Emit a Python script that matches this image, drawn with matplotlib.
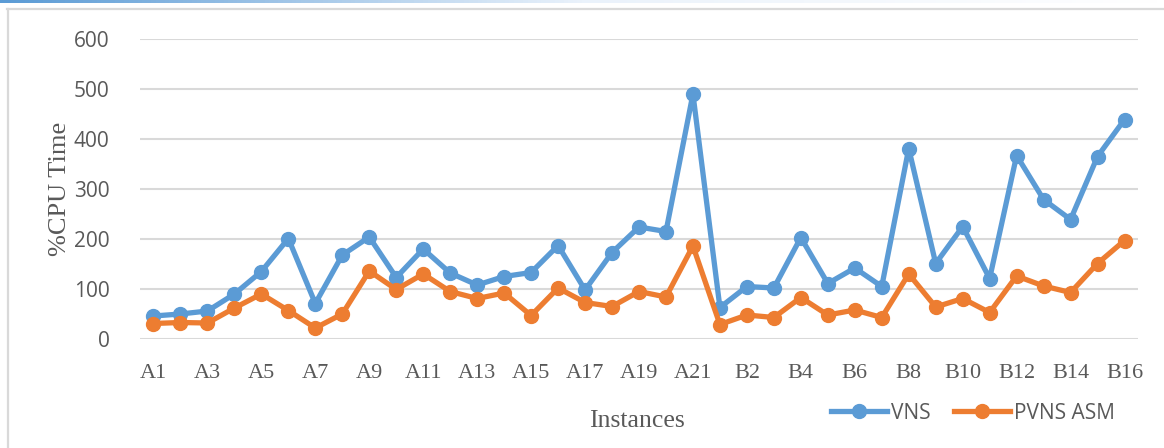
import numpy as np
import matplotlib
matplotlib.use("Agg")
import matplotlib.pyplot as plt
from matplotlib.lines import Line2D

# instance names: A1..A21 then B1..B16
instances = ["A%d" % i for i in range(1, 22)] + ["B%d" % i for i in range(1, 17)]

vns = [46, 50, 56, 90, 135, 201, 71, 168, 204, 123, 180, 132, 108, 125, 133, 187,
       98, 173, 224, 215, 490,
       63, 105, 102, 203, 111, 142, 105, 381, 151, 225, 121, 367, 279, 239, 365, 439]
pvns_asm = [31, 33, 32, 62, 90, 57, 22, 50, 136, 99, 130, 95, 81, 92, 47, 102,
            73, 65, 95, 84, 186,
            29, 48, 43, 83, 48, 58, 43, 130, 64, 81, 53, 126, 106, 93, 151, 197]

y_ticks = [0, 100, 200, 300, 400, 500, 600]

BLUE = "#5b9bd5"
ORANGE = "#ed7d31"
GRID = "#d9d9d9"
TXT = "#595959"
SANS = ["Open Sans", "DejaVu Sans"]
SERIF = ["Liberation Serif", "DejaVu Serif"]

W, H = 1164, 448
fig = plt.figure(figsize=(W / 100, H / 100), dpi=100)

# thin gradient stripe along the top edge
stripe = fig.add_axes([0, 1 - 3 / H, 1, 3 / H])
grad = np.linspace(0, 1, 256).reshape(1, -1)
cmap = matplotlib.colors.LinearSegmentedColormap.from_list("s", [BLUE, "#eaf2fb", "#ffffff"])
stripe.imshow(grad, aspect="auto", cmap=cmap)
stripe.axis("off")

# chart frame (left and top edges visible)
fig.add_artist(Line2D([7.5 / W, 7.5 / W], [0, 1 - 9 / H], transform=fig.transFigure,
                      color=GRID, lw=1.6))
fig.add_artist(Line2D([7 / W, 1], [1 - 9.5 / H, 1 - 9.5 / H], transform=fig.transFigure,
                      color=GRID, lw=1.6))

ax = fig.add_axes([140 / W, (H - 339) / H, (1138 - 140) / W, 300 / H])
x = np.arange(len(instances))

l1, = ax.plot(x, vns, color=BLUE, lw=3.8, marker="o", ms=10, label="VNS",
              solid_joinstyle="round", zorder=3)
l2, = ax.plot(x, pvns_asm, color=ORANGE, lw=3.8, marker="o", ms=10, label="PVNS ASM",
              solid_joinstyle="round", zorder=3)

ax.set_xlim(-0.5, len(instances) - 0.5)
ax.set_ylim(0, 600)
ax.set_yticks(y_ticks)
ax.set_yticklabels([str(v) for v in y_ticks], fontfamily=SANS, fontsize=15, color=TXT)
ax.set_xticks(x[::2])
ax.set_xticklabels(instances[::2], fontfamily=SERIF, fontsize=16, color=TXT)
ax.tick_params(axis="y", length=0, pad=22)
ax.tick_params(axis="x", length=0, pad=18)
ax.grid(axis="y", color=GRID, lw=1.5)
ax.set_axisbelow(True)
for s in ax.spines.values():
    s.set_visible(False)

fig.text(60 / W, 1 - 189 / H, "%CPU Time", rotation=90, ha="center", va="center",
         fontfamily=SERIF, fontsize=19, color=TXT)
fig.text(637 / W, 1 - 421 / H, "Instances", ha="center", va="center",
         fontfamily=SERIF, fontsize=18.5, color=TXT)

fig.legend(handles=[l1, l2], loc="center", bbox_to_anchor=(973 / W, 1 - 413 / H),
           ncol=2, frameon=False, prop={"family": SANS, "size": 15},
           labelcolor=TXT, handlelength=2.7, handletextpad=0.2, columnspacing=1.1,
           borderpad=0)

fig.savefig("out.png", dpi=100, facecolor="white")
